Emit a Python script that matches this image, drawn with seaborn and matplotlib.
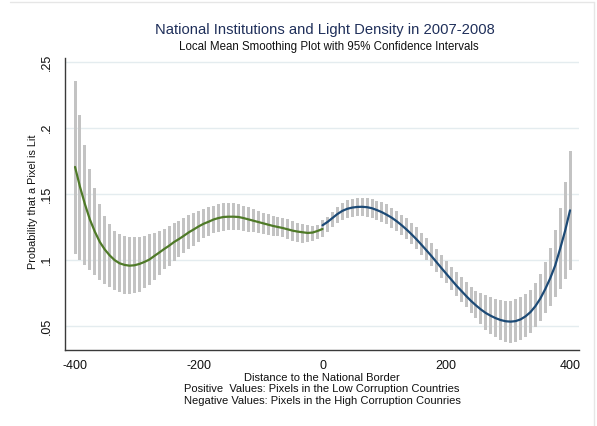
import numpy as np
import pandas as pd
import matplotlib
matplotlib.use("Agg")
import matplotlib.pyplot as plt
from matplotlib.lines import Line2D
import seaborn as sns

# Distance to the national border (km), one estimate every 8 units
dist_high = list(range(-400, 1, 8))   # high-corruption side
dist_low = list(range(0, 401, 8))     # low-corruption side

# Local mean fit and 95% CI, high-corruption side (-400 .. 0)
fit_high = [
    0.1705, 0.1555, 0.1423, 0.1307, 0.1215, 0.1137, 0.1080, 0.1035, 0.0999, 0.0975,
    0.0963, 0.0957, 0.0960, 0.0970, 0.0985, 0.1003, 0.1030, 0.1056, 0.1083, 0.1108,
    0.1136, 0.1159, 0.1184, 0.1210, 0.1232, 0.1255, 0.1275, 0.1290, 0.1307, 0.1318,
    0.1326, 0.1328, 0.1328, 0.1326, 0.1318, 0.1308, 0.1298, 0.1288, 0.1278, 0.1268,
    0.1258, 0.1250, 0.1242, 0.1232, 0.1222, 0.1215, 0.1210, 0.1205, 0.1208, 0.1220,
    0.1235,
]
upper_high = [
    0.2356, 0.2098, 0.1871, 0.1687, 0.1543, 0.1424, 0.1333, 0.1273, 0.1222, 0.1197,
    0.1182, 0.1172, 0.1172, 0.1177, 0.1182, 0.1197, 0.1207, 0.1222, 0.1235, 0.1258,
    0.1278, 0.1298, 0.1316, 0.1338, 0.1354, 0.1371, 0.1386, 0.1399, 0.1412, 0.1422,
    0.1429, 0.1430, 0.1429, 0.1422, 0.1412, 0.1399, 0.1386, 0.1371, 0.1359, 0.1348,
    0.1333, 0.1328, 0.1321, 0.1308, 0.1295, 0.1283, 0.1273, 0.1263, 0.1260, 0.1262,
    0.1298,
]
lower_high = [
    0.1045, 0.1000, 0.0962, 0.0924, 0.0886, 0.0848, 0.0818, 0.0793, 0.0773, 0.0755,
    0.0745, 0.0742, 0.0747, 0.0760, 0.0785, 0.0808, 0.0850, 0.0888, 0.0930, 0.0958,
    0.0992, 0.1020, 0.1051, 0.1083, 0.1109, 0.1139, 0.1164, 0.1182, 0.1202, 0.1215,
    0.1222, 0.1227, 0.1227, 0.1227, 0.1222, 0.1215, 0.1210, 0.1202, 0.1197, 0.1189,
    0.1182, 0.1182, 0.1172, 0.1157, 0.1146, 0.1136, 0.1131, 0.1134, 0.1146, 0.1157,
    0.1177,
]

# Local mean fit and 95% CI, low-corruption side (0 .. 400)
fit_low = [
    0.1263, 0.1288, 0.1318, 0.1348, 0.1372, 0.1388, 0.1397, 0.1402, 0.1403, 0.1400,
    0.1392, 0.1378, 0.1362, 0.1342, 0.1320, 0.1293, 0.1263, 0.1230, 0.1194, 0.1156,
    0.1115, 0.1073, 0.1030, 0.0985, 0.0940, 0.0896, 0.0852, 0.0808, 0.0768, 0.0728,
    0.0690, 0.0656, 0.0625, 0.0598, 0.0577, 0.0559, 0.0545, 0.0536, 0.0533, 0.0537,
    0.0550, 0.0573, 0.0605, 0.0650, 0.0708, 0.0780, 0.0862, 0.0958, 0.1085, 0.1220,
    0.1376,
]
upper_low = [
    0.1305, 0.1328, 0.1361, 0.1399, 0.1434, 0.1455, 0.1465, 0.1472, 0.1472, 0.1470,
    0.1460, 0.1449, 0.1436, 0.1422, 0.1396, 0.1374, 0.1341, 0.1316, 0.1283, 0.1253,
    0.1202, 0.1164, 0.1126, 0.1083, 0.1038, 0.0992, 0.0949, 0.0907, 0.0874, 0.0831,
    0.0798, 0.0768, 0.0748, 0.0737, 0.0722, 0.0707, 0.0697, 0.0692, 0.0692, 0.0702,
    0.0717, 0.0740, 0.0773, 0.0828, 0.0891, 0.0985, 0.1093, 0.1227, 0.1396, 0.1591,
    0.1828,
]
lower_low = [
    0.1222, 0.1215, 0.1247, 0.1278, 0.1303, 0.1321, 0.1328, 0.1333, 0.1333, 0.1328,
    0.1318, 0.1303, 0.1285, 0.1270, 0.1245, 0.1220, 0.1189, 0.1157, 0.1121, 0.1081,
    0.1038, 0.1000, 0.0955, 0.0907, 0.0866, 0.0823, 0.0773, 0.0727, 0.0684, 0.0641,
    0.0596, 0.0558, 0.0512, 0.0468, 0.0439, 0.0414, 0.0394, 0.0381, 0.0374, 0.0379,
    0.0394, 0.0419, 0.0449, 0.0495, 0.0540, 0.0601, 0.0652, 0.0722, 0.0778, 0.0854,
    0.0924,
]

y_ticks = [0.05, 0.10, 0.15, 0.20, 0.25]
y_tick_labels = [".05", ".1", ".15", ".2", ".25"]
x_ticks = [-400, -200, 0, 200, 400]
x_tick_labels = ["-400", "-200", "0", "200", "400"]

title = "National Institutions and Light Density in 2007-2008"
subtitle = "Local Mean Smoothing Plot with 95% Confidence Intervals"
y_title = "Probability that a Pixel is Lit"
x_title = [
    "Distance to the National Border",
    "Positive  Values: Pixels in the Low Corruption Countries",
    "Negative Values: Pixels in the High Corruption Counries",
]

high = pd.DataFrame({"distance": dist_high, "fit": fit_high,
                     "lo": lower_high, "hi": upper_high})
low = pd.DataFrame({"distance": dist_low, "fit": fit_low,
                    "lo": lower_low, "hi": upper_low})

sns.set_style("white")
plt.rcParams["font.family"] = ["Liberation Sans", "DejaVu Sans"]

W, H = 597, 426
fig = plt.figure(figsize=(W / 100, H / 100), dpi=100)
fig.patch.set_facecolor("white")

# axes box in pixel coordinates
left, right, top, bottom = 65, 579, 58, 350
ax = fig.add_axes([left / W, 1 - bottom / H, (right - left) / W, (bottom - top) / H])

CI_GREY = "#c3c3c3"
GREEN = "#4f7a28"
NAVY = "#1c4a76"

for d in (high, low):
    ax.bar(d["distance"], d["hi"] - d["lo"], bottom=d["lo"], width=4.9,
           color=CI_GREY, linewidth=0, zorder=2)

sns.lineplot(data=high, x="distance", y="fit", color=GREEN, linewidth=1.6,
             ax=ax, zorder=3)
sns.lineplot(data=low, x="distance", y="fit", color=NAVY, linewidth=1.6,
             ax=ax, zorder=3)

ax.set_xlim(-416.2, 414.5)
ax.set_ylim(0.1 + (260 - bottom) / 1320, 0.1 + (260 - top) / 1320)

ax.set_yticks(y_ticks)
ax.set_yticklabels(y_tick_labels, rotation=90, va="center")
ax.set_xticks(x_ticks)
ax.set_xticklabels(x_tick_labels)
ax.set_xlabel("")
ax.set_ylabel("")

ax.yaxis.grid(True, color="#e4ecef", linewidth=1.0, zorder=0)
ax.xaxis.grid(False)
ax.set_axisbelow(True)

for side in ("top", "right"):
    ax.spines[side].set_visible(False)
for side in ("left", "bottom"):
    ax.spines[side].set_color("#3a3a3a")
    ax.spines[side].set_linewidth(1.0)

ax.tick_params(axis="both", direction="out", length=4, width=0.9,
               color="#3a3a3a", labelsize=9, labelcolor="#111111")
ax.tick_params(axis="y", pad=5)
ax.tick_params(axis="x", pad=3)

fig.text(325 / W, 1 - 30 / H, title, ha="center", va="center",
         fontsize=10.6, color="#1f2f5a")
fig.text(329 / W, 1 - 47 / H, subtitle, ha="center", va="center",
         fontsize=8.3, color="#111111")
fig.text(33 / W, 1 - 202 / H, y_title, rotation=90, ha="center", va="center",
         fontsize=7.8, color="#111111")
for i, line in enumerate(x_title):
    fig.text(322 / W, 1 - (378 + 11.5 * i) / H, line, ha="center", va="center",
             fontsize=8.0, color="#111111")

# faint outer frame of the graph region
fig.add_artist(Line2D([10 / W, 594 / W], [1 - 2 / H, 1 - 2 / H],
                      transform=fig.transFigure, color="#e6e6e6", linewidth=1))
fig.add_artist(Line2D([594 / W, 594 / W], [1 - 2 / H, 0],
                      transform=fig.transFigure, color="#e6e6e6", linewidth=1))

fig.savefig("out.png", dpi=100, facecolor="white")
